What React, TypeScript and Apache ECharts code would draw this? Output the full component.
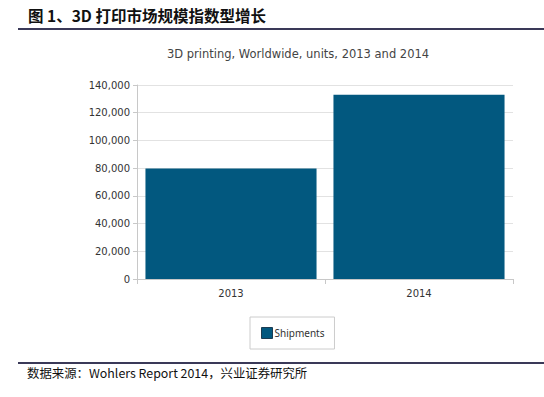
import React, { useEffect, useRef } from "react";
import * as echarts from "echarts";

const categories = ["2013", "2014"];
const shipments = [79800, 133000];
const yTicks = { min: 0, max: 140000, interval: 20000 };
const seriesName = "Shipments";
const figureTitle = "图 1、3D 打印市场规模指数型增长";
const chartTitle = "3D printing, Worldwide, units, 2013 and 2014";
const sourceText = "数据来源：Wohlers Report 2014，兴业证券研究所";

const DV = "'DejaVu Sans', Verdana, sans-serif";

export default function App() {
  const ref = useRef<HTMLDivElement>(null);
  useEffect(() => {
    const chart = echarts.init(ref.current!, null, { renderer: "svg" });
    chart.setOption({
      animation: false,
      backgroundColor: "#ffffff",
      title: {
        text: chartTitle,
        left: 293,
        top: 43,
        textAlign: "center",
        textStyle: { fontSize: 11.5, fontWeight: "normal", color: "#444", fontFamily: DV },
      },
      grid: { left: 137, right: 31, top: 85, bottom: 118, containLabel: false },
      legend: {
        data: [seriesName],
        left: 250,
        top: 317,
        orient: "horizontal",
        borderColor: "#cccccc",
        borderWidth: 1,
        padding: [10, 10, 10, 11],
        itemWidth: 11,
        itemHeight: 11,
        icon: "rect",
        itemStyle: { borderColor: "#1c3c52", borderWidth: 1 },
        textStyle: { fontSize: 10, color: "#333", fontFamily: "'Noto Sans', sans-serif", padding: [0, 0, 0, -3] },
      },
      xAxis: {
        type: "category",
        data: categories,
        axisLine: { show: true, lineStyle: { color: "#c8c8c8" } },
        axisTick: { show: true, alignWithLabel: false, length: 5, lineStyle: { color: "#c8c8c8" } },
        axisLabel: { fontSize: 10, color: "#333", margin: 9, fontFamily: DV },
      },
      yAxis: {
        type: "value",
        min: yTicks.min,
        max: yTicks.max,
        interval: yTicks.interval,
        axisLine: { show: true, lineStyle: { color: "#c8c8c8" } },
        axisTick: { show: true, length: 4, lineStyle: { color: "#c8c8c8" } },
        splitLine: { show: true, lineStyle: { color: "#e2e2e2" } },
        axisLabel: {
          fontSize: 10,
          color: "#333",
          margin: 7,
          fontFamily: DV,
          formatter: (v: number) => v.toLocaleString("en-US"),
        },
      },
      series: [
        {
          name: seriesName,
          type: "bar",
          data: shipments,
          barCategoryGap: "9%",
          itemStyle: { color: "#02587f" },
        },
      ],
      graphic: [
        {
          type: "text",
          left: 28,
          top: 7,
          style: {
            text: figureTitle,
            fontSize: 15.5,
            fontWeight: "bold",
            fill: "#111",
            fontFamily: "'Noto Sans CJK SC', sans-serif",
          },
        },
        {
          type: "line",
          shape: { x1: 18, y1: 29, x2: 544, y2: 29 },
          style: { stroke: "#3a3958", lineWidth: 2 },
        },
        {
          type: "line",
          shape: { x1: 18, y1: 363, x2: 544, y2: 363 },
          style: { stroke: "#3a3958", lineWidth: 2 },
        },
        {
          type: "text",
          left: 27,
          top: 367,
          style: {
            text: sourceText,
            fontSize: 12.4,
            fill: "#111",
            fontFamily: "'Noto Sans CJK SC', sans-serif",
          },
        },
      ],
    });
    return () => chart.dispose();
  }, []);
  return (
    <div
      ref={ref}
      style={{ position: "absolute", left: 0, top: 0, width: 544, height: 397 }}
    />
  );
}
